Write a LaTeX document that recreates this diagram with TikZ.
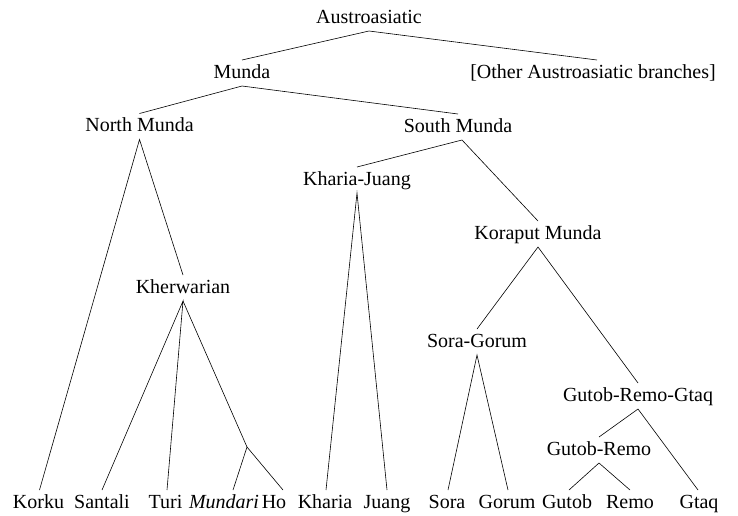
\documentclass[tikz,border=0pt]{standalone}
\usepackage{fontspec}
\setmainfont{Liberation Serif}
\begin{document}
\begin{tikzpicture}[x=1pt,y=-1pt,
  lang/.style={font=\fontsize{20}{24}\selectfont, text height=14pt, text depth=4pt,
    inner xsep=0pt, inner ysep=4pt, outer sep=0pt},
  branch/.style={line width=0.6pt, black}]
\useasboundingbox (0,0) rectangle (738,515);
% internal nodes
\node[lang] (austro) at (369,18) {Austroasiatic};
\node[lang] (munda) at (242,73) {Munda};
\node[lang] (other) at (593,73) {[Other Austroasiatic branches]};
\node[lang] (north) at (139.5,126.5) {North Munda};
\node[lang] (south) at (458,127) {South Munda};
\node[lang] (kj) at (357,180) {Kharia-Juang};
\node[lang] (koraput) at (538,234) {Koraput Munda};
\node[lang] (kherw) at (183,288) {Kherwarian};
\node[lang] (sg) at (477,342) {Sora-Gorum};
\node[lang] (grg) at (638,396) {Gutob-Remo-Gtaq};
\node[lang] (gr) at (599,450) {Gutob-Remo};
\coordinate (mh) at (247,447);
% leaves
\node[lang] (korku) at (38.5,503) {Korku};
\node[lang] (santali) at (102,503) {Santali};
\node[lang] (turi) at (165.5,503) {Turi};
\node[lang] (mundari) at (224,503) {\itshape Mundari};
\node[lang] (ho) at (274,503) {Ho};
\node[lang] (kharia) at (325,503) {Kharia};
\node[lang] (juang) at (387,503) {Juang};
\node[lang] (sora) at (447,503) {Sora};
\node[lang] (gorum) at (507,503) {Gorum};
\node[lang] (gutob) at (567,503) {Gutob};
\node[lang] (remo) at (630,503) {Remo};
\node[lang] (gtaq) at (699,503) {Gtaq};
% branches
\draw[branch] (munda.north) -- (austro.south) -- ([xshift=4pt]other.north);
\draw[branch] (north.north) -- (munda.south) -- (south.north);
\draw[branch] ([xshift=1pt]korku.north) -- (north.south) -- (kherw.north);
\draw[branch] (kj.north) -- ([xshift=4pt]south.south) -- (koraput.north);
\draw[branch] ([xshift=1pt]kharia.north) -- (kj.south) -- (juang.north);
\draw[branch] (sg.north) -- (koraput.south) -- (grg.north);
\draw[branch] (santali.north) -- (kherw.south) -- ([xshift=1.5pt]turi.north);
\draw[branch] (kherw.south) -- (mh);
\draw[branch] ([xshift=9pt]mundari.north) -- (mh) -- ([xshift=9pt]ho.north);
\draw[branch] ([xshift=1pt]sora.north) -- (sg.south) -- ([xshift=1pt]gorum.north);
\draw[branch] (gr.north) -- (grg.south) -- ([xshift=-1pt]gtaq.north);
\draw[branch] ([xshift=2pt]gutob.north) -- (gr.south) -- (remo.north);
\end{tikzpicture}
\end{document}
